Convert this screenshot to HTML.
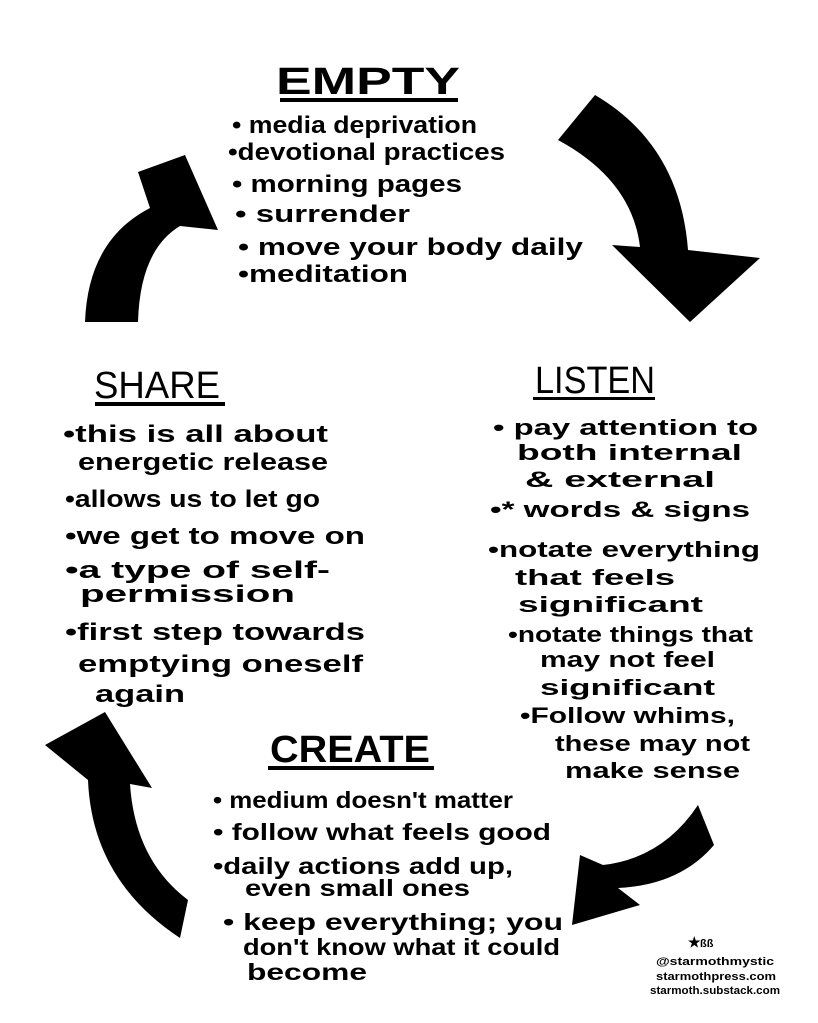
<!DOCTYPE html>
<html><head><meta charset="utf-8"><style>
html,body{margin:0;padding:0;background:#fff}
svg{display:block}
text{font-family:"Liberation Sans",sans-serif;fill:#000}
.b{font-size:24px;font-weight:bold}
.t{font-size:38px;font-weight:bold}
.s{font-size:11px;font-weight:bold}
</style></head><body>
<svg width="818" height="1023" viewBox="0 0 818 1023" xmlns="http://www.w3.org/2000/svg">
<rect width="818" height="1023" fill="#fff"/>
<!-- arrows -->
<path d="M558,140 L595,95 Q680,145 688,250 L760,258 L690,322 L612,245 L640,247 Q632,180 558,140Z" fill="#000"/>
<path d="M85,322 Q88,240 150,208 L138,172 L185,155 L218,230 L180,226 Q140,250 138,322Z" fill="#000"/>
<path d="M180,938 Q92,880 88,780 L45,745 L105,712 L152,788 L130,784 Q135,860 188,900Z" fill="#000"/>
<path d="M698,805 L714,845 Q680,885 618,888 L640,905 L572,925 L580,855 L603,865 Q663,858 698,805Z" fill="#000"/>
<!-- titles -->
<text class="t" x="276" y="94" textLength="184" lengthAdjust="spacingAndGlyphs">EMPTY</text>
<rect x="280" y="98" width="178" height="4" fill="#000"/>
<text class="t" x="94" y="398" textLength="126" lengthAdjust="spacingAndGlyphs" style="font-weight:normal">SHARE</text>
<rect x="95" y="402" width="130" height="4" fill="#000"/>
<text class="t" x="535" y="393" textLength="120" lengthAdjust="spacingAndGlyphs" style="font-weight:normal">LISTEN</text>
<rect x="533" y="397" width="122" height="3" fill="#000"/>
<text class="t" x="270" y="762" textLength="160" lengthAdjust="spacingAndGlyphs">CREATE</text>
<rect x="268" y="766" width="166" height="4" fill="#000"/>
<!-- empty -->
<g class="b">
<text x="232" y="133" textLength="245" lengthAdjust="spacingAndGlyphs">• media deprivation</text>
<text x="228" y="160" textLength="277" lengthAdjust="spacingAndGlyphs">•devotional practices</text>
<text x="232" y="192" textLength="230" lengthAdjust="spacingAndGlyphs">• morning pages</text>
<text x="235" y="222" textLength="175" lengthAdjust="spacingAndGlyphs">•  surrender</text>
<text x="238" y="255" textLength="345" lengthAdjust="spacingAndGlyphs">• move your body daily</text>
<text x="238" y="282" textLength="170" lengthAdjust="spacingAndGlyphs">•meditation</text>
</g>
<!-- share -->
<g class="b">
<text x="63" y="442" textLength="265" lengthAdjust="spacingAndGlyphs">•this is all about</text>
<text x="78" y="470" textLength="250" lengthAdjust="spacingAndGlyphs">energetic release</text>
<text x="65" y="507" textLength="255" lengthAdjust="spacingAndGlyphs">•allows us to let go</text>
<text x="65" y="544" textLength="300" lengthAdjust="spacingAndGlyphs">•we get to move on</text>
<text x="65" y="578" textLength="265" lengthAdjust="spacingAndGlyphs">•a type of self-</text>
<text x="80" y="602" textLength="215" lengthAdjust="spacingAndGlyphs">permission</text>
<text x="65" y="640" textLength="300" lengthAdjust="spacingAndGlyphs">•first step towards</text>
<text x="78" y="672" textLength="285" lengthAdjust="spacingAndGlyphs">emptying oneself</text>
<text x="95" y="702" textLength="90" lengthAdjust="spacingAndGlyphs">again</text>
</g>
<!-- listen -->
<g class="b" style="font-size:22px">
<text x="493" y="435" textLength="265" lengthAdjust="spacingAndGlyphs">• pay attention to</text>
<text x="517" y="460" textLength="225" lengthAdjust="spacingAndGlyphs">both internal</text>
<text x="525" y="487" textLength="190" lengthAdjust="spacingAndGlyphs">&amp; external</text>
<text x="490" y="517" textLength="260" lengthAdjust="spacingAndGlyphs">•* words &amp; signs</text>
<text x="488" y="557" textLength="272" lengthAdjust="spacingAndGlyphs">•notate everything</text>
<text x="515" y="585" textLength="160" lengthAdjust="spacingAndGlyphs">that feels</text>
<text x="518" y="612" textLength="185" lengthAdjust="spacingAndGlyphs">significant</text>
<text x="508" y="642" textLength="245" lengthAdjust="spacingAndGlyphs">•notate things that</text>
<text x="540" y="667" textLength="175" lengthAdjust="spacingAndGlyphs">may not feel</text>
<text x="540" y="695" textLength="175" lengthAdjust="spacingAndGlyphs">significant</text>
<text x="520" y="723" textLength="215" lengthAdjust="spacingAndGlyphs">•Follow whims,</text>
<text x="555" y="751" textLength="195" lengthAdjust="spacingAndGlyphs">these may not</text>
<text x="565" y="778" textLength="175" lengthAdjust="spacingAndGlyphs">make sense</text>
</g>
<!-- create -->
<g class="b" style="font-size:23px">
<text x="213" y="808" textLength="300" lengthAdjust="spacingAndGlyphs">• medium doesn't matter</text>
<text x="213" y="840" textLength="338" lengthAdjust="spacingAndGlyphs">• follow what feels good</text>
<text x="213" y="874" textLength="300" lengthAdjust="spacingAndGlyphs">•daily actions add up,</text>
<text x="245" y="896" textLength="225" lengthAdjust="spacingAndGlyphs">even small ones</text>
<text x="223" y="930" textLength="340" lengthAdjust="spacingAndGlyphs">• keep everything; you</text>
<text x="243" y="955" textLength="317" lengthAdjust="spacingAndGlyphs">don't know what it could</text>
<text x="247" y="980" textLength="120" lengthAdjust="spacingAndGlyphs">become</text>
</g>
<!-- credits -->
<text x="688" y="947" style="font-size:14px;font-weight:bold">★</text>
<text x="700" y="947" class="s">ßß</text>
<text class="s" x="656" y="965" textLength="118" lengthAdjust="spacingAndGlyphs">@starmothmystic</text>
<text class="s" x="656" y="980" textLength="120" lengthAdjust="spacingAndGlyphs">starmothpress.com</text>
<text class="s" x="650" y="994" textLength="130" lengthAdjust="spacingAndGlyphs">starmoth.substack.com</text>
</svg>
</body></html>
